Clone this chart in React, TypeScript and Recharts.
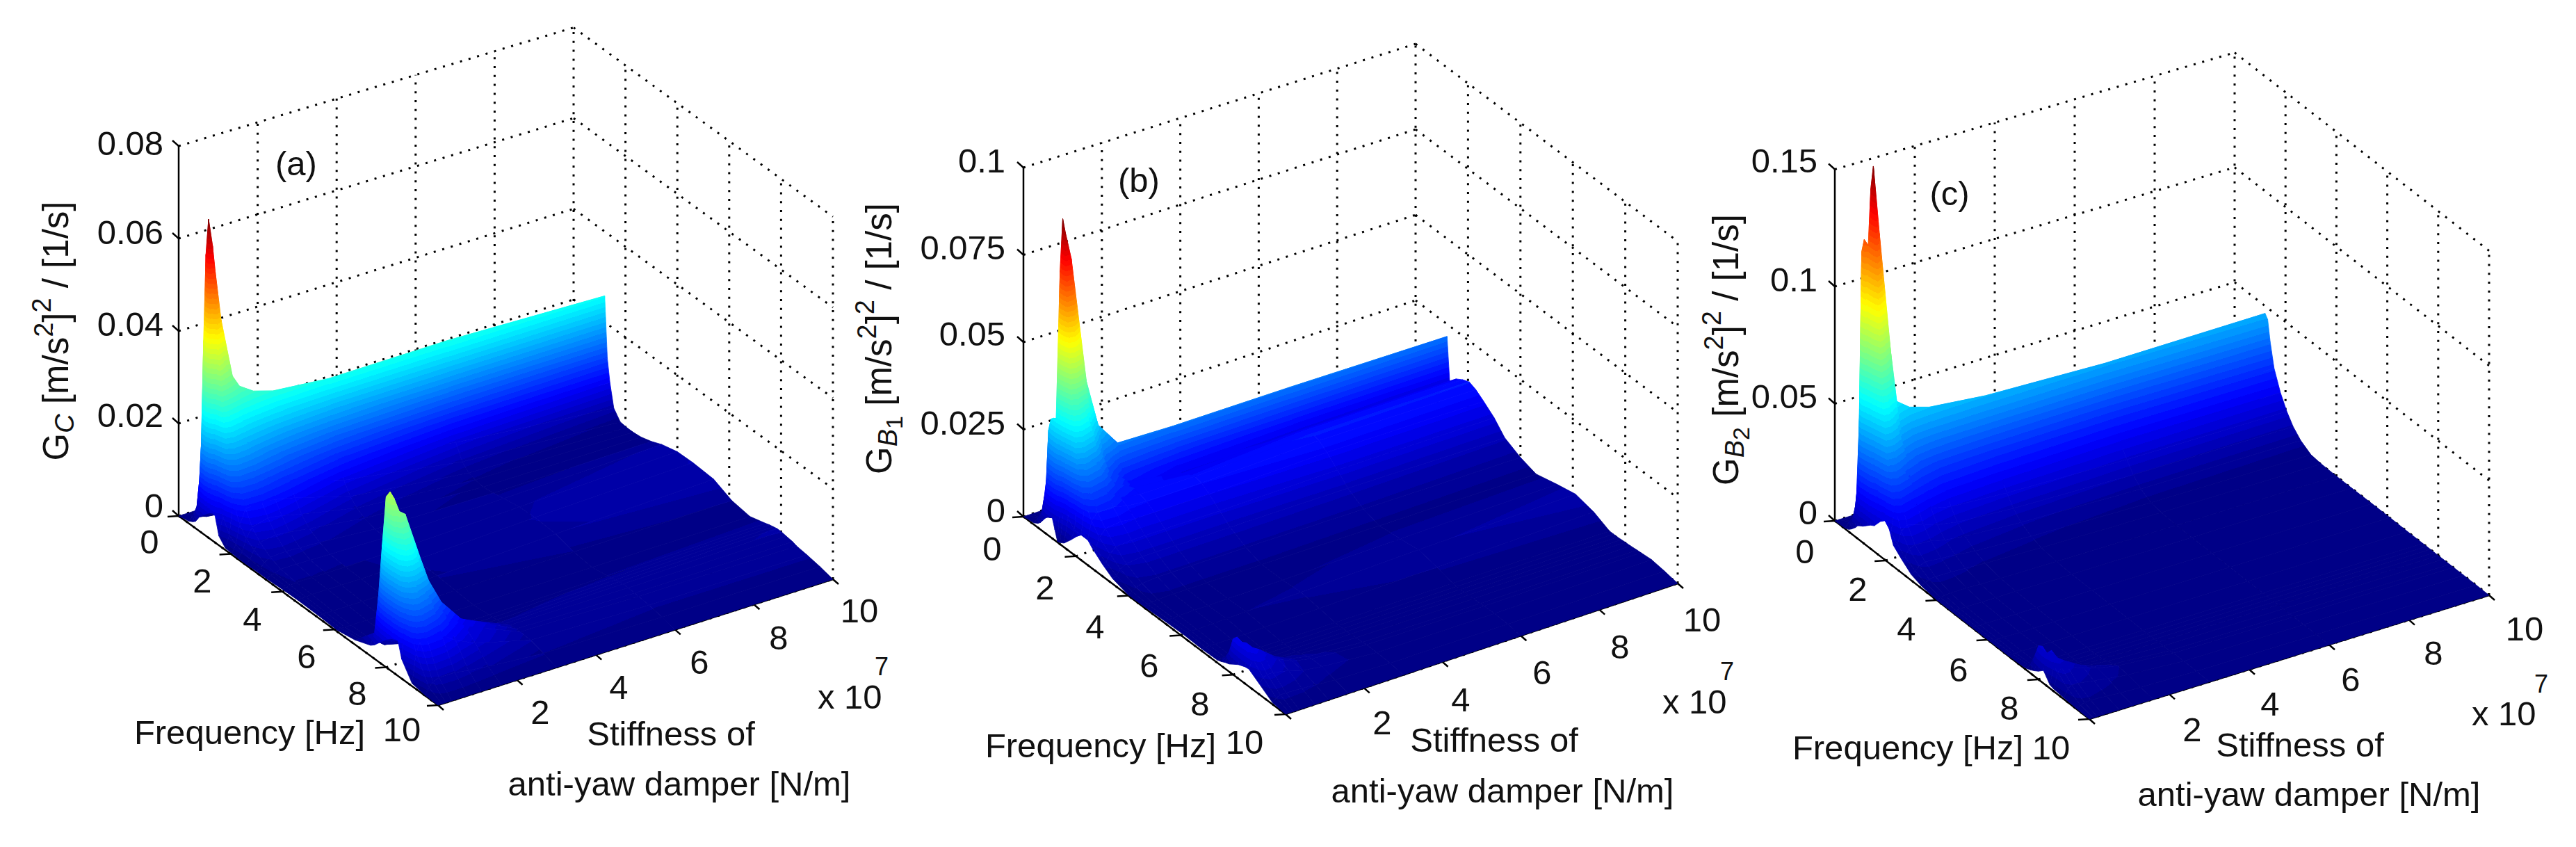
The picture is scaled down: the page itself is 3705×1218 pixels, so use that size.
import { ComposedChart, Line, XAxis, YAxis } from 'recharts'

const W = 3705
const H = 1218

// frequency rows [Hz] and stiffness columns [x 10^7 N/m] of the surfaces
const freqs = [0, 0.4, 0.55, 0.65, 0.73, 0.81, 0.9, 1, 1.1, 1.2, 1.3, 1.4, 1.55, 1.8, 2.05, 2.3, 2.6, 3, 3.4, 4, 4.6, 5.4, 6.1, 6.8, 7.4, 7.55, 7.7, 7.85, 8, 8.2, 8.45, 8.6, 9, 9.5, 10]
const stiffs = [0, 0.1, 0.2, 0.35, 0.75, 1.1, 1.6, 3, 6, 10]

// PSD values, x 10^-3, one row per frequency
const gC = [
  [0, 0, 0, 0, 0, 0, 0, 0, 0, 0],
  [0.5, 1.5, 0.8, 0.6, 0.4, 0.3, 0.3, 0.3, 0.3, 0.3],
  [1, 4, 2, 1.2, 0.8, 0.7, 0.6, 0.6, 0.6, 0.6],
  [1.5, 10, 4, 2, 1.3, 1.1, 1, 1, 1, 1],
  [2.3, 19, 8, 3.5, 2, 1.8, 1.6, 1.5, 1.5, 1.5],
  [3.2, 41, 16, 6, 3, 2.6, 2.4, 2.2, 2.2, 2.2],
  [3.8, 60, 38, 14, 5.5, 4.2, 3.8, 3.5, 3.5, 3.5],
  [4.4, 68, 62, 34, 12, 8, 6.5, 6, 6, 6],
  [5, 40, 57, 46, 28, 18, 15, 14, 14, 13],
  [5.6, 18, 42, 37, 31, 29, 27.7, 26.6, 26.8, 25.8],
  [5.9, 12, 36, 33, 28, 26, 24, 20, 15, 12.5],
  [5.8, 9, 28, 28, 24, 22.5, 20, 15, 9.5, 7.5],
  [2, 6, 19, 22, 20, 18, 15.5, 11, 6, 2.5],
  [0.4, 3, 10, 14, 14, 12.5, 11, 7, 2.8, 0.5],
  [0.3, 2, 6, 9, 9.5, 9, 8, 4.5, 1.4, 0.3],
  [0.2, 1.4, 4, 6, 7, 6.5, 5.5, 3, 0.9, 0.3],
  [0.2, 1, 2.8, 4, 4.5, 4.2, 3.6, 2, 0.6, 0.5],
  [0.3, 0.8, 1.6, 2.4, 2.6, 2.4, 2.2, 1.3, 0.9, 1.2],
  [0.3, 0.8, 1, 1.5, 1.5, 1.4, 1.3, 1.1, 1.4, 2.2],
  [0.5, 0.8, 0.8, 1, 1, 1, 1, 1.2, 2, 3.1],
  [0.6, 0.8, 0.8, 0.9, 0.9, 0.9, 0.9, 1.2, 2.2, 3.2],
  [0.5, 0.6, 0.6, 0.6, 0.6, 0.6, 0.7, 1, 1.9, 2.9],
  [0.3, 0.4, 0.4, 0.4, 0.4, 0.4, 0.5, 0.7, 0.9, 1.1],
  [1, 1, 0.8, 0.6, 0.5, 0.4, 0.4, 0.4, 0.4, 0.5],
  [2.3, 4.7, 2.5, 1.5, 1, 0.9, 0.8, 0.7, 1, 1.5],
  [3, 13, 4.5, 2.2, 1.3, 1.1, 0.9, 0.8, 1.2, 1.8],
  [4, 25, 9, 3.5, 1.8, 1.4, 1.2, 0.9, 1.4, 2],
  [5, 36, 22, 7, 3, 2, 1.5, 1, 1.6, 2.2],
  [6, 37.7, 36, 17, 9, 4.5, 2.5, 1.3, 1.7, 2.2],
  [7, 30, 34, 33, 22, 13, 7, 1.8, 1.7, 2],
  [7.7, 21, 27, 27, 19, 13, 8, 2, 1.6, 1.8],
  [4.2, 15, 19, 20, 15, 11, 7, 2, 1.5, 1.5],
  [0.6, 7, 9, 10, 9, 7, 5, 1.8, 1.2, 1.2],
  [0.1, 1.5, 2.5, 3, 3, 2.5, 2, 1, 0.7, 0.7],
  [0, 0, 0, 0, 0, 0, 0, 0, 0, 0],
]

const gB1 = [
  [0, 0, 0, 0, 0, 0, 0, 0, 0, 0],
  [0.5, 1.5, 1, 0.8, 0.5, 0.4, 0.4, 0.4, 0.4, 0.4],
  [1.2, 4, 2.5, 1.5, 1, 0.8, 0.7, 0.7, 0.7, 0.7],
  [2, 9, 5, 3, 1.5, 1.2, 1.1, 1, 1, 1],
  [3, 14.3, 8, 4, 2.2, 1.8, 1.6, 1.5, 1.5, 1.5],
  [4, 29, 14, 7, 3.2, 2.6, 2.3, 2.2, 2.2, 2.2],
  [5, 32.7, 24, 12, 5, 4, 3.5, 3.3, 3.3, 3.3],
  [5.6, 33.5, 33, 24, 9, 6.5, 5.5, 5, 5, 5],
  [5.8, 34, 76, 50, 18, 12, 9.5, 9, 9, 9],
  [3, 30, 91.4, 74, 45, 29, 22, 21.6, 21.7, 21.4],
  [0.2, 18, 88, 80, 42, 27, 19, 15, 11, 9],
  [0.5, 12, 62, 66, 36, 23, 15, 11, 9, 9],
  [1.2, 8, 40, 44, 30, 19, 13, 10, 11, 11],
  [3.5, 6, 22, 26, 22, 16, 12.5, 11, 12.2, 12.2],
  [6, 6, 15, 18, 16, 13, 12, 12, 13, 13],
  [8.6, 6, 11, 13, 13, 12, 11.5, 11.5, 12.5, 12.2],
  [6, 5, 8, 10, 10.5, 10, 10, 10, 10.8, 10.5],
  [3.5, 3.6, 5.5, 7, 7.5, 7.5, 7.5, 7.5, 8, 8],
  [1.5, 2, 3.5, 4.5, 5, 5, 5, 5, 5, 4.5],
  [0.2, 0.8, 1.6, 2.2, 2.6, 2.6, 2.6, 2.6, 2.4, 2.2],
  [0.3, 0.5, 0.7, 1, 1.1, 1.1, 1.1, 1.1, 1, 0.8],
  [0.6, 0.7, 0.8, 0.9, 1, 1, 1.1, 1.2, 1.8, 2.4],
  [0.8, 0.9, 1, 1, 1.1, 1.2, 1.4, 1.6, 2.6, 3.6],
  [0.6, 0.7, 0.8, 0.7, 0.7, 0.7, 0.8, 1, 1.6, 2.4],
  [0.8, 1, 0.8, 0.6, 0.4, 0.4, 0.3, 0.3, 0.3, 0.3],
  [1.2, 2, 1, 0.7, 0.4, 0.4, 0.3, 0.3, 0.3, 0.3],
  [1.8, 4.5, 1.5, 0.9, 0.5, 0.4, 0.3, 0.3, 0.3, 0.3],
  [2.2, 9, 3, 1.2, 0.6, 0.5, 0.4, 0.3, 0.3, 0.4],
  [3, 10.4, 6.5, 2.5, 0.9, 0.7, 0.5, 0.4, 0.4, 0.5],
  [4, 10, 9.5, 7, 3, 1.8, 1.2, 0.5, 0.4, 0.6],
  [4.8, 8.5, 9.5, 8.5, 5, 3, 1.8, 0.6, 0.5, 0.8],
  [5, 7.5, 8.5, 8, 5, 3.2, 2, 0.7, 0.6, 0.9],
  [3, 4.5, 5, 5, 4, 2.8, 2, 0.8, 0.7, 1.2],
  [0.5, 1.5, 2, 2, 1.8, 1.4, 1, 0.6, 0.5, 0.7],
  [0, 0, 0, 0, 0, 0, 0, 0, 0, 0],
]

const gB2 = [
  [0, 0, 0, 0, 0, 0, 0, 0, 0, 0],
  [0.3, 2.5, 1.5, 1, 0.7, 0.6, 0.5, 0.5, 0.5, 0.5],
  [1, 5.5, 3, 2, 1.2, 1, 0.9, 0.9, 0.9, 0.9],
  [2, 11, 6, 3.5, 2, 1.6, 1.4, 1.3, 1.3, 1.3],
  [3, 20, 11, 6, 3, 2.4, 2, 1.9, 1.9, 1.9],
  [4, 50, 22, 10, 4.8, 3.6, 3, 2.8, 2.8, 2.8],
  [5.5, 122, 60, 20, 8, 6, 5, 4.5, 4.5, 4.5],
  [6.3, 128, 125, 60, 16, 11, 9, 8, 8, 8],
  [7, 80, 150, 105, 35, 22, 18, 16, 15.5, 15],
  [8, 60, 160.5, 131, 57.5, 53, 50.4, 48, 46.3, 46.8],
  [9, 45, 145, 112, 54, 47, 45, 43, 41, 45],
  [10, 30, 105, 88, 48, 41, 37, 34, 31, 36],
  [11, 20, 68, 65, 40, 33, 29, 26, 24, 26],
  [15, 15, 36, 40, 29, 25, 21, 19, 17, 17.5],
  [17.5, 12, 22, 24, 20, 17, 15, 13.5, 12, 11.5],
  [9, 9, 14, 16, 14, 12, 10.5, 9, 7.5, 7],
  [6, 6, 9, 10, 9.5, 8, 7, 5.5, 4, 3.5],
  [2.5, 3.5, 5, 6, 5.5, 5, 4, 3, 1.5, 0.8],
  [1, 1.8, 2.8, 3.2, 3, 2.8, 2.2, 1.5, 0.6, 0.3],
  [0.1, 0.6, 1, 1.2, 1.2, 1, 0.9, 0.6, 0.3, 0.1],
  [0.1, 0.2, 0.4, 0.4, 0.4, 0.4, 0.4, 0.3, 0.2, 0.1],
  [0.1, 0.1, 0.2, 0.2, 0.2, 0.2, 0.2, 0.2, 0.2, 0.2],
  [0.1, 0.1, 0.1, 0.1, 0.1, 0.1, 0.1, 0.1, 0.2, 0.2],
  [0.1, 0.2, 0.1, 0.1, 0.1, 0.1, 0.1, 0.1, 0.1, 0.1],
  [0.4, 1, 0.4, 0.2, 0.1, 0.1, 0.1, 0.1, 0.1, 0.1],
  [0.8, 2.5, 0.8, 0.3, 0.2, 0.1, 0.1, 0.1, 0.1, 0.1],
  [1.5, 7, 2, 0.6, 0.3, 0.2, 0.1, 0.1, 0.1, 0.1],
  [2.4, 12.5, 4, 1.2, 0.4, 0.3, 0.2, 0.1, 0.1, 0.1],
  [3.5, 13.6, 10, 3, 0.7, 0.5, 0.3, 0.1, 0.1, 0.1],
  [5.5, 12, 13, 9, 4, 2, 1, 0.2, 0.1, 0.1],
  [1.5, 9, 11, 10, 6, 3.5, 2, 0.3, 0.1, 0.1],
  [1, 7.5, 9, 8.5, 6, 4, 2.5, 0.4, 0.1, 0.1],
  [0.6, 4, 5, 5, 4, 3, 2, 0.5, 0.1, 0.1],
  [0.2, 1.2, 1.8, 2, 1.6, 1.2, 0.8, 0.3, 0.1, 0.1],
  [0, 0, 0, 0, 0, 0, 0, 0, 0, 0],
]

const axisTicks = [0, 2, 4, 6, 8, 10]
const zTicksA = [0, 0.02, 0.04, 0.06, 0.08]
const zTicksB = [0, 0.025, 0.05, 0.075, 0.1]
const zTicksC = [0, 0.05, 0.1, 0.15]

const FONT = '"Liberation Sans", Arial, sans-serif'
const FS = 49

// one entry per panel: the view of the 3D box, and where its texts sit
const panels = [
  {
    id: 'a', grid: gC, zTicks: zTicksA, o: [257, 742], vf: [373, 272], vk: [568, -181], zs: 6650,
    zLab: { x: 235, ys: [727, 597, 466, 334, 206] },
    fLab: [[215, 779], [291, 835], [363, 890], [441, 944], [514, 997], [578, 1049]],
    kLab: [[777, 1024], [890, 988], [1006, 952], [1120, 917], [1236, 878]],
    exp: [1176, 1002], sup: [1268, 958],
    freq: [359, 1053], st1: [965, 1055], st2: [977, 1127], tag: [426, 235], tagText: '(a)',
    title: [80, 476], sub: 'C', subsub: '',
  },
  {
    id: 'b', grid: gB1, zTicks: zTicksB, o: [1472, 743], vf: [377, 284], vk: [564, -188], zs: 5020,
    zLab: { x: 1446, ys: [734, 608, 480, 356, 231] },
    fLab: [[1427, 789], [1503, 845], [1575, 901], [1653, 957], [1726, 1012], [1790, 1067]],
    kLab: [[1988, 1039], [2101, 1006], [2218, 967], [2330, 930], [2448, 891]],
    exp: [2391, 1009], sup: [2484, 965],
    freq: [1583, 1072], st1: [2149, 1064], st2: [2161, 1137], tag: [1638, 259], tagText: '(b)',
    title: [1264, 487], sub: 'B', subsub: '1',
  },
  {
    id: 'c', grid: gB2, zTicks: zTicksC, o: [2639, 749], vf: [366, 285], vk: [575, -178], zs: 3370,
    zLab: { x: 2614, ys: [737, 570, 402, 231] },
    fLab: [[2596, 793], [2672, 847], [2742, 904], [2817, 963], [2890, 1018], [2950, 1075]],
    kLab: [[3153, 1049], [3265, 1012], [3381, 977], [3500, 939], [3631, 904]],
    exp: [3555, 1026], sup: [3655, 983],
    freq: [2744, 1075], st1: [3308, 1071], st2: [3321, 1142], tag: [2804, 278], tagText: '(c)',
    title: [2482, 503], sub: 'B', subsub: '2',
  },
]

type Panel = (typeof panels)[number]

const project = (p: Panel, f: number, k: number, z: number) => ({
  px: p.o[0] + (f * p.vf[0]) / 10 + (k * p.vk[0]) / 10,
  py: p.o[1] + (f * p.vf[1]) / 10 + (k * p.vk[1]) / 10 - z * p.zs * (1 - (0.02 * k) / 10),
})

const clamp = (v: number) => Math.max(0, Math.min(1, v))
const jet = (level: number) => {
  const t = (level + 0.5) / 64
  const c = (v: number) => Math.round(clamp(v) * 255)
  return `rgb(${c(Math.min(4 * t - 1.5, 4.5 - 4 * t))},${c(Math.min(4 * t - 0.5, 3.5 - 4 * t))},${c(Math.min(4 * t + 0.5, 2.5 - 4 * t))})`
}

// quads are flattened four vertices at a time, far corner first so nearer ones paint over
const buildQuads = (p: Panel) => {
  const out: { px: number; py: number; z: number }[] = []
  for (let r = 0; r < freqs.length - 1; r++) {
    for (let c = stiffs.length - 2; c >= 0; c--) {
      const corners: [number, number][] = [[r, c], [r, c + 1], [r + 1, c + 1], [r + 1, c]]
      corners.forEach(([i, j]) => {
        const z = p.grid[i][j] / 1000
        out.push({ ...project(p, freqs[i], stiffs[j], z), z })
      })
    }
  }
  return out
}

const makeQuadDot = (id: string, zMax: number) => {
  const buf: { x: number; y: number; z: number }[] = []
  return (props: any) => {
    const { index, cx, cy, payload } = props
    buf[index % 4] = { x: cx, y: cy, z: payload.z }
    if (index % 4 !== 3) return <g key={index} />
    const pts = buf.slice(0, 4)
    const d = pts.map((q) => `${q.x},${q.y}`).join(' ')
    const zs = pts.map((q) => q.z)
    const lo = Math.min(...zs)
    const hi = Math.max(...zs)
    const lev = (z: number) => Math.min(63, Math.floor((z / zMax) * 64))
    const l0 = lev(lo)
    const l1 = lev(hi)
    if (l0 === l1) {
      return <polygon key={index} points={d} fill={jet(l0)} stroke={jet(l0)} strokeWidth={0.8} />
    }
    // fit z over the screen so that the colour bands run the way the surface does
    const mx = pts.reduce((s, q) => s + q.x, 0) / 4
    const my = pts.reduce((s, q) => s + q.y, 0) / 4
    const mz = pts.reduce((s, q) => s + q.z, 0) / 4
    let sxx = 0, sxy = 0, syy = 0, sxz = 0, syz = 0
    pts.forEach((q) => {
      const dx = q.x - mx, dy = q.y - my, dz = q.z - mz
      sxx += dx * dx; sxy += dx * dy; syy += dy * dy; sxz += dx * dz; syz += dy * dz
    })
    const det = sxx * syy - sxy * sxy
    let x1: number, y1: number, x2: number, y2: number
    if (Math.abs(det) > 1) {
      const a = (syy * sxz - sxy * syz) / det
      const b = (sxx * syz - sxy * sxz) / det
      const n = a * a + b * b
      x1 = mx + (a * (lo - mz)) / n; y1 = my + (b * (lo - mz)) / n
      x2 = mx + (a * (hi - mz)) / n; y2 = my + (b * (hi - mz)) / n
    } else {
      const pl = pts[zs.indexOf(lo)], ph = pts[zs.indexOf(hi)]
      x1 = pl.x; y1 = pl.y; x2 = ph.x; y2 = ph.y
    }
    const stops: { o: number; c: string }[] = []
    for (let l = l0; l <= l1; l++) {
      const a = l === l0 ? 0 : ((l / 64) * zMax - lo) / (hi - lo)
      const b = l === l1 ? 1 : (((l + 1) / 64) * zMax - lo) / (hi - lo)
      stops.push({ o: a, c: jet(l) }, { o: b, c: jet(l) })
    }
    const gid = `q-${id}-${index}`
    return (
      <g key={index}>
        <defs>
          <linearGradient id={gid} gradientUnits="userSpaceOnUse" x1={x1} y1={y1} x2={x2} y2={y2}>
            {stops.map((s, i) => <stop key={i} offset={s.o} stopColor={s.c} />)}
          </linearGradient>
        </defs>
        <polygon points={d} fill={`url(#${gid})`} stroke={`url(#${gid})`} strokeWidth={0.8} />
      </g>
    )
  }
}

// dotted walls and floor of the box
const gridSegments = (p: Panel) => {
  const zTop = p.zTicks[p.zTicks.length - 1]
  const segs: { px: number; py: number }[][] = []
  axisTicks.forEach((k) => {
    if (k > 0) segs.push([project(p, 0, k, 0), project(p, 0, k, zTop)])
    segs.push([project(p, 0, k, 0), project(p, 10, k, 0)])
  })
  axisTicks.forEach((f) => {
    if (f > 0) segs.push([project(p, f, 10, 0), project(p, f, 10, zTop)])
    segs.push([project(p, f, 0, 0), project(p, f, 10, 0)])
  })
  p.zTicks.forEach((z) => {
    segs.push([project(p, 0, 0, z), project(p, 0, 10, z)])
    segs.push([project(p, 0, 10, z), project(p, 10, 10, z)])
  })
  return segs
}

const axisSegments = (p: Panel) => {
  const zTop = p.zTicks[p.zTicks.length - 1]
  const segs = [
    [project(p, 0, 0, 0), project(p, 0, 0, zTop)],
    [project(p, 0, 0, 0), project(p, 10, 0, 0)],
    [project(p, 10, 0, 0), project(p, 10, 10, 0)],
  ]
  const tick = (a: { px: number; py: number }, dx: number, dy: number) => [a, { px: a.px + dx, py: a.py + dy }]
  p.zTicks.forEach((z) => segs.push(tick(project(p, 0, 0, z), -9, -8)))
  axisTicks.forEach((f) => segs.push(tick(project(p, f, 0, 0), -16, 1)))
  axisTicks.forEach((k) => segs.push(tick(project(p, 10, k, 0), 8, 7)))
  return segs
}

const textRows = (p: Panel) => {
  const rows: any[] = []
  const add = (xy: number[], text: string, anchor = 'middle', size = FS) =>
    rows.push({ px: xy[0], py: xy[1], text, anchor, size })
  p.zTicks.forEach((z, i) => add([p.zLab.x, p.zLab.ys[i]], String(z), 'end'))
  axisTicks.forEach((t, i) => add(p.fLab[i], String(t)))
  axisTicks.slice(1).forEach((t, i) => add(p.kLab[i], String(t)))
  add(p.exp, 'x 10', 'start')
  add(p.sup, '7', 'middle', 36)
  add(p.freq, 'Frequency [Hz]')
  add(p.st1, 'Stiffness of')
  add(p.st2, 'anti-yaw damper [N/m]')
  add(p.tag, p.tagText)
  rows.push({ px: p.title[0], py: p.title[1], title: true, sub: p.sub, subsub: p.subsub })
  return rows
}

const TextDot = (props: any) => {
  const { cx, cy, payload, index } = props
  if (payload.title) {
    return (
      <text key={index} x={cx} y={cy} transform={`rotate(-90 ${cx} ${cy})`} textAnchor="middle" dominantBaseline="central"
        fontFamily={FONT} fontSize={51} fill="#111" xmlSpace="preserve">
        <tspan>G</tspan>
        <tspan dy={13} fontSize={38} fontStyle="italic">{payload.sub}</tspan>
        {payload.subsub ? <tspan dy={9} fontSize={34}>{payload.subsub}</tspan> : null}
        <tspan dy={payload.subsub ? -22 : -13}>{' [m/s'}</tspan>
        <tspan dy={-17} fontSize={38}>2</tspan>
        <tspan dy={17}>]</tspan>
        <tspan dy={-20} fontSize={38}>2</tspan>
        <tspan dy={20}>{' / [1/s]'}</tspan>
      </text>
    )
  }
  return (
    <text key={index} x={cx} y={cy} textAnchor={payload.anchor} dominantBaseline="central"
      fontFamily={FONT} fontSize={payload.size} fill="#111">
      {payload.text}
    </text>
  )
}

export default function App() {
  return (
    <div style={{ position: 'absolute', left: 0, top: 0, width: W, height: H, background: '#fff' }}>
      <ComposedChart width={W} height={H} margin={{ top: 0, right: 0, bottom: 0, left: 0 }}>
        <XAxis type="number" dataKey="px" domain={[0, W]} hide />
        <YAxis type="number" domain={[0, H]} reversed hide />
        {panels.flatMap((p) => gridSegments(p).map((seg, i) => (
          <Line key={`g${p.id}${i}`} data={seg} dataKey="py" stroke="#000" strokeWidth={3} strokeDasharray="3 9.8" dot={false} isAnimationActive={false} legendType="none" />
        )))}
        {panels.flatMap((p) => axisSegments(p).map((seg, i) => (
          <Line key={`x${p.id}${i}`} data={seg} dataKey="py" stroke="#000" strokeWidth={2.5} dot={false} isAnimationActive={false} legendType="none" />
        )))}
        {panels.map((p) => (
          <Line key={`s${p.id}`} data={buildQuads(p)} dataKey="py" stroke="none"
            dot={makeQuadDot(p.id, Math.max(...p.grid.flat()) / 1000)} isAnimationActive={false} legendType="none" />
        ))}
        {panels.map((p) => (
          <Line key={`t${p.id}`} data={textRows(p)} dataKey="py" stroke="none" dot={TextDot} isAnimationActive={false} legendType="none" />
        ))}
      </ComposedChart>
    </div>
  )
}
